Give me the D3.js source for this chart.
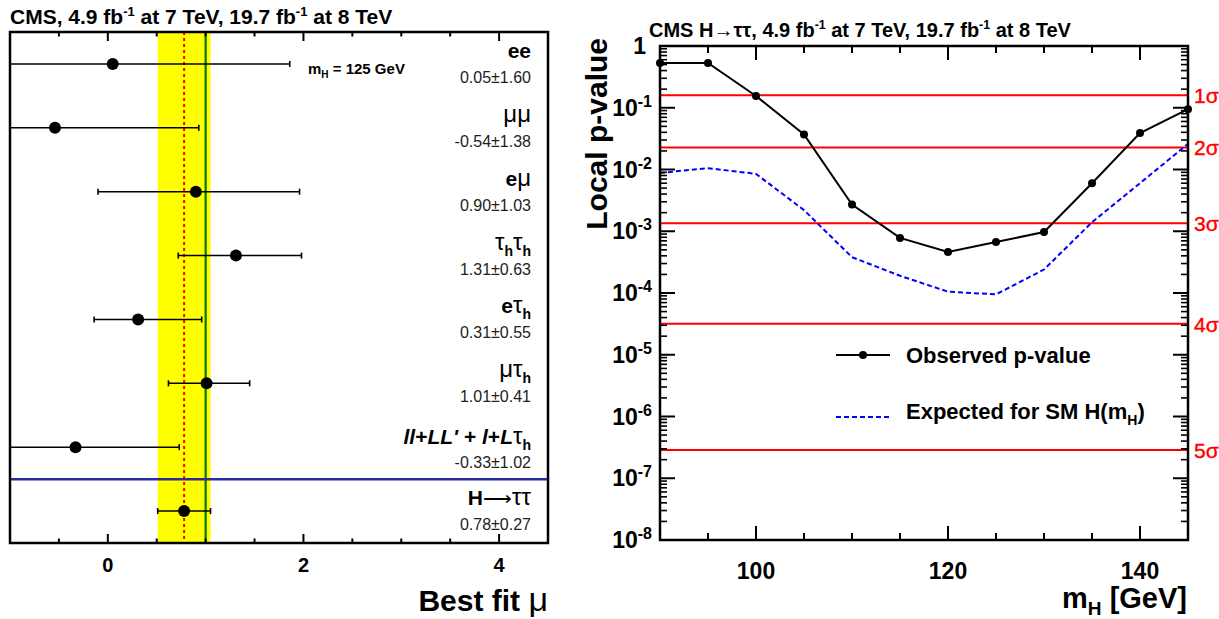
<!DOCTYPE html>
<html><head><meta charset="utf-8">
<script src="https://cdn.jsdelivr.net/npm/d3@7"></script>
<style>
body{margin:0;background:#fff;}
svg{display:block;}
text{font-family:"Liberation Sans",Arial,Helvetica,sans-serif;}
</style></head>
<body><svg id="c" width="1219" height="619"></svg>
<script>
// ---- Left panel data (best fit mu per channel) ----
const channels = ["ee","μμ","eμ","τhτh","eτh","μτh","ll","Htt"];
const muValues = [0.05,-0.54,0.90,1.31,0.31,1.01,-0.33,0.78];
const muLow    = [-1.55,-1.92,-0.10,0.72,-0.14,0.62,-1.35,0.51];
const muHigh   = [1.86,0.93,1.96,1.98,0.96,1.45,0.73,1.05];
const muText   = ["0.05±1.60","-0.54±1.38","0.90±1.03","1.31±0.63","0.31±0.55","1.01±0.41","-0.33±1.02","0.78±0.27"];
const combinedMu = 0.78, combinedLo = 0.51, combinedHi = 1.05, smMu = 1.0;
const muTicks = [0,2,4];

// ---- Right panel data (local p-value) ----
const massPoints = [90,95,100,105,110,115,120,125,130,135,140,145];
const observedP  = [0.53,0.53,0.155,0.037,0.0027,7.8e-4,4.6e-4,6.7e-4,9.7e-4,0.0060,0.039,0.095];
const expectedP  = [0.0088,0.0105,0.0085,0.0022,3.8e-4,1.9e-4,1.05e-4,9.5e-5,2.4e-4,1.4e-3,0.0060,0.026];
const sigmaLabels = ["1σ","2σ","3σ","4σ","5σ"];
const sigmaP = [0.158655,0.0227501,0.0013499,3.16712e-5,2.86652e-7];
const massTicks = [100,120,140];

const svg = d3.select("#c");
const GREEK = 24;

// ================= LEFT PANEL =================
const L = {x0:10,x1:548,y0:32,y1:543};
const xL = d3.scaleLinear([-1,4.5],[L.x0,L.x1]);
const yL = d3.scaleBand(d3.range(channels.length),[L.y0,L.y1]);
const gL = svg.append("g");
gL.append("clipPath").attr("id","clipL").append("rect")
  .attr("x",L.x0).attr("y",L.y0).attr("width",L.x1-L.x0).attr("height",L.y1-L.y0);

gL.append("rect").attr("x",xL(combinedLo)).attr("y",L.y0)
  .attr("width",xL(combinedHi)-xL(combinedLo)).attr("height",L.y1-L.y0).attr("fill","#ffff00");
gL.append("line").attr("x1",xL(combinedMu)).attr("x2",xL(combinedMu)).attr("y1",L.y0).attr("y2",L.y1)
  .attr("stroke","#ff0000").attr("stroke-width",2).attr("stroke-dasharray","3,3");
gL.append("line").attr("x1",xL(smMu)).attr("x2",xL(smMu)).attr("y1",L.y0).attr("y2",L.y1)
  .attr("stroke","#007a00").attr("stroke-width",2.2);
const sepY = yL(channels.length-1);
gL.append("line").attr("x1",L.x0).attr("x2",L.x1).attr("y1",sepY).attr("y2",sepY)
  .attr("stroke","#2b2b9e").attr("stroke-width",2.5);

const eb = gL.append("g").attr("clip-path","url(#clipL)");
channels.forEach((c,i)=>{
  const cy = yL(i)+yL.bandwidth()/2;
  eb.append("line").attr("x1",xL(muLow[i])).attr("x2",xL(muHigh[i])).attr("y1",cy).attr("y2",cy)
    .attr("stroke","#000").attr("stroke-width",1.6);
  [muLow[i],muHigh[i]].forEach(v=>{
    eb.append("line").attr("x1",xL(v)).attr("x2",xL(v)).attr("y1",cy-3).attr("y2",cy+3)
      .attr("stroke","#000").attr("stroke-width",1.6);
  });
  eb.append("circle").attr("cx",xL(muValues[i])).attr("cy",cy).attr("r",6).attr("fill","#000");
});

const minorMu = d3.range(-0.5,4.51,0.5).filter(v=>muTicks.indexOf(v)<0);
[[L.y1,-1],[L.y0,1]].forEach(([yy,dir])=>{
  muTicks.forEach(v=>gL.append("line").attr("x1",xL(v)).attr("x2",xL(v)).attr("y1",yy).attr("y2",yy+dir*9).attr("stroke","#000").attr("stroke-width",2));
  minorMu.forEach(v=>gL.append("line").attr("x1",xL(v)).attr("x2",xL(v)).attr("y1",yy).attr("y2",yy+dir*4.5).attr("stroke","#000").attr("stroke-width",2));
});
gL.append("rect").attr("x",L.x0).attr("y",L.y0).attr("width",L.x1-L.x0).attr("height",L.y1-L.y0)
  .attr("fill","none").attr("stroke","#000").attr("stroke-width",2.5);
muTicks.forEach(v=>gL.append("text").attr("x",xL(v)).attr("y",572).attr("text-anchor","middle")
  .attr("font-size",20).attr("font-weight","bold").text(v));
const bt = gL.append("text").attr("x",548).attr("y",611).attr("text-anchor","end").attr("font-size",30)
  .attr("font-weight","bold");
bt.append("tspan").text("Best fit ");
bt.append("tspan").attr("font-weight","normal").attr("font-size",34).text("μ");

function title(g,x,y,first,fs){
  const t = g.append("text").attr("x",x).attr("y",y).attr("font-size",fs).attr("font-weight","bold");
  t.append("tspan").text(first+", 4.9 fb");
  t.append("tspan").attr("font-size",fs*0.62).attr("dy",-8).text("-1");
  t.append("tspan").attr("dy",8).text(" at 7 TeV, 19.7 fb");
  t.append("tspan").attr("font-size",fs*0.62).attr("dy",-8).text("-1");
  t.append("tspan").attr("dy",8).text(" at 8 TeV");
}
title(gL,10,24,"CMS",21);

const mh = gL.append("text").attr("x",308).attr("y",74).attr("font-size",15).attr("font-weight","bold");
mh.append("tspan").text("m");
mh.append("tspan").attr("font-size",10).attr("dy",4).text("H");
mh.append("tspan").attr("dy",-4).text(" = 125 GeV");

const lx = 531;
channels.forEach((c,i)=>{
  const cy = yL(i)+yL.bandwidth()/2;
  const t = gL.append("text").attr("x",lx).attr("y",cy-(i===6?3:6)).attr("text-anchor","end").attr("font-size",21);
  let pendingDy = 0;
  const add = (s,opt={})=>{
    const ts = t.append("tspan").text(s);
    if(opt.bold) ts.attr("font-weight","bold");
    if(opt.italic) ts.attr("font-style","italic");
    if(opt.size) ts.attr("font-size",opt.size);
    let dy = pendingDy + (opt.dy||0);
    if(dy) ts.attr("dy",dy);
    pendingDy = opt.dy ? -opt.dy : 0;
    return ts;
  };
  const b = s=>add(s,{bold:true});
  const g = s=>add(s,{size:GREEK});
  const sub = s=>add(s,{bold:true,size:14,dy:6});
  if(c==="ee") b("ee");
  else if(c==="μμ") g("μμ");
  else if(c==="eμ"){ b("e"); g("μ"); }
  else if(c==="τhτh"){ g("τ"); sub("h"); g("τ"); sub("h"); }
  else if(c==="eτh"){ b("e"); g("τ"); sub("h"); }
  else if(c==="μτh"){ g("μτ"); sub("h"); }
  else if(c==="ll"){ add("ll",{bold:true,italic:true}); b("+"); add("LL'",{bold:true,italic:true});
    b(" + "); add("l",{bold:true,italic:true}); b("+"); add("L",{bold:true,italic:true});
    g("τ"); sub("h"); }
  else { b("H"); add("⟶",{size:20}); g("ττ"); }
  gL.append("text").attr("x",lx).attr("y",cy+(i===6?21:19)).attr("text-anchor","end").attr("font-size",16)
    .attr("fill","#222").text(muText[i]);
});

// ================= RIGHT PANEL =================
const R = {x0:660,x1:1188,y0:46,y1:540};
const xR = d3.scaleLinear([90,145],[R.x0,R.x1]);
const yR = d3.scaleLog([1e-8,1],[R.y1,R.y0]);
const gR = svg.append("g");

sigmaP.forEach((p,i)=>{
  gR.append("line").attr("x1",R.x0).attr("x2",R.x1).attr("y1",yR(p)).attr("y2",yR(p))
    .attr("stroke","#ff0000").attr("stroke-width",2);
  gR.append("text").attr("x",1194).attr("y",yR(p)+8).attr("fill","#ff0000").attr("font-size",21)
    .attr("stroke","#ff0000").attr("stroke-width",0.4).text(sigmaLabels[i]);
});

const line = d3.line().x((d,i)=>xR(massPoints[i])).y(d=>yR(d));
gR.append("path").attr("d",line(expectedP)).attr("fill","none").attr("stroke","#0000ff")
  .attr("stroke-width",2).attr("stroke-dasharray","5,3");
gR.append("path").attr("d",line(observedP)).attr("fill","none").attr("stroke","#000").attr("stroke-width",2);
observedP.forEach((p,i)=>gR.append("circle").attr("cx",xR(massPoints[i])).attr("cy",yR(p)).attr("r",4).attr("fill","#000"));

const minorM = d3.range(95,145,5).filter(v=>massTicks.indexOf(v)<0);
[[R.y1,-1],[R.y0,1]].forEach(([yy,dir])=>{
  massTicks.forEach(v=>gR.append("line").attr("x1",xR(v)).attr("x2",xR(v)).attr("y1",yy).attr("y2",yy+dir*14).attr("stroke","#000").attr("stroke-width",2));
  minorM.forEach(v=>gR.append("line").attr("x1",xR(v)).attr("x2",xR(v)).attr("y1",yy).attr("y2",yy+dir*7).attr("stroke","#000").attr("stroke-width",2));
});
const decades = d3.range(-8,1).map(e=>Math.pow(10,e));
const minorP = [];
decades.slice(0,-1).forEach(d=>{ for(let k=2;k<=9;k++) minorP.push(d*k); });
[[R.x0,1],[R.x1,-1]].forEach(([xx,dir])=>{
  decades.forEach(v=>gR.append("line").attr("x1",xx).attr("x2",xx+dir*15).attr("y1",yR(v)).attr("y2",yR(v)).attr("stroke","#000").attr("stroke-width",2));
  minorP.forEach(v=>gR.append("line").attr("x1",xx).attr("x2",xx+dir*7).attr("y1",yR(v)).attr("y2",yR(v)).attr("stroke","#000").attr("stroke-width",1.6));
});
gR.append("rect").attr("x",R.x0).attr("y",R.y0).attr("width",R.x1-R.x0).attr("height",R.y1-R.y0)
  .attr("fill","none").attr("stroke","#000").attr("stroke-width",2.5);

decades.forEach(v=>{
  const e = Math.round(Math.log10(v));
  const t = gR.append("text").attr("x",e===0?646:652).attr("y",yR(v)+8).attr("text-anchor","end")
    .attr("font-size",23).attr("font-weight","bold");
  if(e===0) t.text("1");
  else { t.append("tspan").text("10"); t.append("tspan").attr("font-size",16).attr("dy",-9).text(String(e)); }
});
massTicks.forEach(v=>gR.append("text").attr("x",xR(v)).attr("y",579).attr("text-anchor","middle")
  .attr("font-size",23).attr("font-weight","bold").text(v));
const xt = gR.append("text").attr("x",1187).attr("y",608).attr("text-anchor","end").attr("font-size",29).attr("font-weight","bold");
xt.append("tspan").text("m"); xt.append("tspan").attr("font-size",19).attr("dy",7).text("H");
xt.append("tspan").attr("dy",-7).text(" [GeV]");
gR.append("text").attr("transform","translate(607,38) rotate(-90)").attr("text-anchor","end")
  .attr("font-size",30).attr("font-weight","bold").text("Local p-value");
title(gR,649,37,"CMS H→ττ",20);

const lg = gR.append("g");
lg.append("line").attr("x1",836).attr("x2",890).attr("y1",355).attr("y2",355).attr("stroke","#000").attr("stroke-width",2);
lg.append("circle").attr("cx",863).attr("cy",355).attr("r",4).attr("fill","#000");
lg.append("text").attr("x",906).attr("y",363).attr("font-size",22).attr("font-weight","bold").text("Observed p-value");
lg.append("line").attr("x1",836).attr("x2",892).attr("y1",417).attr("y2",417).attr("stroke","#0000ff").attr("stroke-width",2).attr("stroke-dasharray","5,3");
const le = lg.append("text").attr("x",906).attr("y",419).attr("font-size",22).attr("font-weight","bold");
le.append("tspan").text("Expected for SM H(m");
le.append("tspan").attr("font-size",14).attr("dy",6).text("H");
le.append("tspan").attr("dy",-6).text(")");
</script></body></html>
